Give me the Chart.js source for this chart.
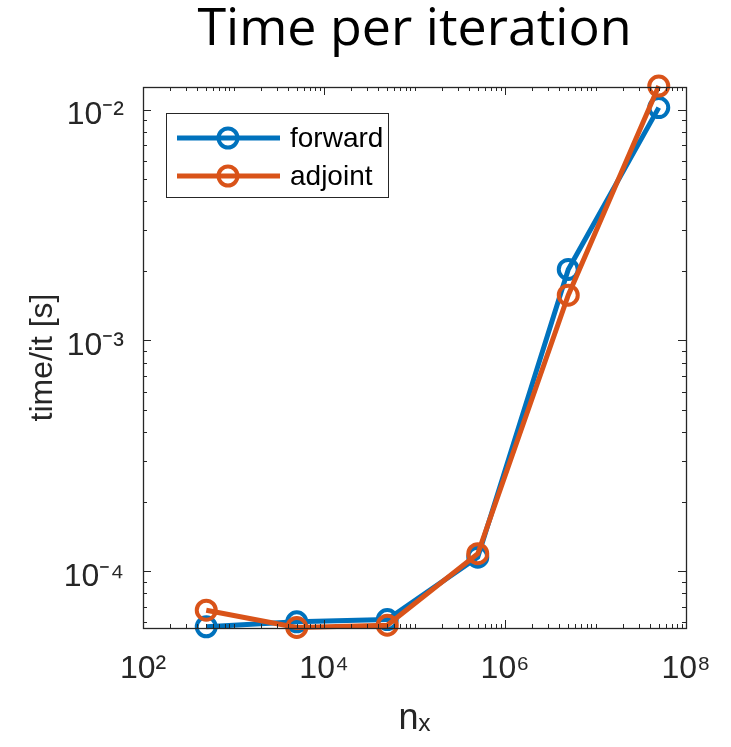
<!DOCTYPE html>
<html>
<head>
<meta charset="utf-8">
<script src="https://cdn.jsdelivr.net/npm/chart.js@4.4.1/dist/chart.umd.min.js"></script>
<style>
  html, body { margin: 0; padding: 0; background: #fff; }
  #wrap { width: 731px; height: 747px; }
</style>
</head>
<body>
<div id="wrap"><canvas id="timing"></canvas></div>
<script>
// problem size and measured time per iteration
const nx = [5e2, 5e3, 5e4, 5e5, 5e6, 5e7];
const forwardTime = [5.74e-5, 6.03e-5, 6.17e-5, 1.15e-4, 2.03e-3, 1.02e-2];
const adjointTime = [6.77e-5, 5.70e-5, 5.83e-5, 1.19e-4, 1.57e-3, 1.265e-2];

const seriesNames = ['forward', 'adjoint'];
const seriesColors = ['#0072BD', '#D95319'];

const xTicks = [1e2, 1e4, 1e6, 1e8];
const xTickLabels = ['10²', '10⁴', '10⁶', '10⁸'];
const yTicks = [1e-4, 1e-3, 1e-2];
const yTickLabels = ['10⁻⁴', '10⁻³', '10⁻²'];

const axisColor = '#262626';
const tickFont = { family: 'Liberation Sans, Arial, sans-serif', size: 32 };

function toPoints(xs, ys) {
  return xs.map((x, i) => ({ x: x, y: ys[i] }));
}

// matlab style box with inward ticks
const boxTicks = {
  id: 'boxTicks',
  afterDatasetsDraw(chart) {
    const ctx = chart.ctx;
    const a = chart.chartArea;
    const xs = chart.scales.x, ys = chart.scales.y;
    ctx.save();
    ctx.strokeStyle = axisColor;
    ctx.lineWidth = 1;
    const minor = 4, major = 8;

    const logTicks = (scale, majors) => {
      const out = [];
      const lo = Math.floor(Math.log10(scale.min));
      const hi = Math.ceil(Math.log10(scale.max));
      for (let d = lo; d <= hi; d++) {
        for (let k = 1; k <= 9; k++) {
          const v = k * Math.pow(10, d);
          if (v < scale.min || v > scale.max) continue;
          const isMajor = majors.some(m => Math.abs(m - v) / m < 1e-9);
          out.push({ p: scale.getPixelForValue(v), len: isMajor ? major : minor });
        }
      }
      return out;
    };

    ctx.beginPath();
    logTicks(xs, xTicks).forEach(t => {
      const px = Math.round(t.p) + 0.5;
      ctx.moveTo(px, a.bottom); ctx.lineTo(px, a.bottom - t.len);
      ctx.moveTo(px, a.top); ctx.lineTo(px, a.top + t.len);
    });
    logTicks(ys, yTicks).forEach(t => {
      const py = Math.round(t.p) + 0.5;
      ctx.moveTo(a.left, py); ctx.lineTo(a.left + t.len, py);
      ctx.moveTo(a.right, py); ctx.lineTo(a.right - t.len, py);
    });
    ctx.stroke();

    ctx.lineWidth = 1.3;
    ctx.strokeRect(Math.round(a.left) + 0.5, Math.round(a.top) + 0.5,
      Math.round(a.right - a.left), Math.round(a.bottom - a.top));
    ctx.restore();
  }
};

// legend box inside the axes, top left
const insideLegend = {
  id: 'insideLegend',
  afterDraw(chart) {
    const ctx = chart.ctx;
    const a = chart.chartArea;
    const left = a.left + 23, top = a.top + 26;
    const w = 222, h = 84;
    ctx.save();
    ctx.fillStyle = '#fff';
    ctx.fillRect(left, top, w, h);
    ctx.strokeStyle = axisColor;
    ctx.lineWidth = 1;
    ctx.strokeRect(left + 0.5, top + 0.5, w, h);

    ctx.font = '28px Liberation Sans, Arial, sans-serif';
    ctx.textBaseline = 'middle';
    seriesNames.forEach((name, i) => {
      const y = top + 25 + i * 38;
      ctx.strokeStyle = seriesColors[i];
      ctx.lineWidth = 5;
      ctx.beginPath();
      ctx.moveTo(left + 11, y);
      ctx.lineTo(left + 114, y);
      ctx.stroke();
      ctx.lineWidth = 4;
      ctx.beginPath();
      ctx.arc(left + 62, y, 9.5, 0, Math.PI * 2);
      ctx.stroke();
      ctx.fillStyle = '#000';
      ctx.fillText(name, left + 124, y + 1);
    });
    ctx.restore();
  }
};

const ctx = document.getElementById('timing').getContext('2d');

new Chart(ctx, {
  type: 'line',
  data: {
    datasets: [
      {
        label: seriesNames[0],
        data: toPoints(nx, forwardTime),
        borderColor: seriesColors[0],
        backgroundColor: 'rgba(0,0,0,0)',
        borderWidth: 5,
        pointRadius: 9.5,
        pointBorderWidth: 4,
        pointBackgroundColor: 'rgba(0,0,0,0)',
        pointBorderColor: seriesColors[0],
        clip: false,
        order: 1
      },
      {
        label: seriesNames[1],
        data: toPoints(nx, adjointTime),
        borderColor: seriesColors[1],
        backgroundColor: 'rgba(0,0,0,0)',
        borderWidth: 5,
        pointRadius: 9.5,
        pointBorderWidth: 4,
        pointBackgroundColor: 'rgba(0,0,0,0)',
        pointBorderColor: seriesColors[1],
        clip: false,
        order: 0
      }
    ]
  },
  options: {
    responsive: true,
    maintainAspectRatio: false,
    animation: false,
    layout: { padding: { left: 0, right: 45, top: 0, bottom: 0 } },
    plugins: {
      legend: { display: false },
      tooltip: { enabled: false },
      title: {
        display: true,
        fullSize: false,
        text: 'Time per iteration',
        color: '#000',
        font: { family: 'Open Sans, Noto Sans, sans-serif', size: 52, weight: 'normal', lineHeight: 1 },
        padding: { top: 4, bottom: 31 }
      }
    },
    scales: {
      x: {
        type: 'logarithmic',
        min: 1e2,
        max: 1e8,
        grid: { display: false },
        border: { display: false },
        afterBuildTicks: scale => { scale.ticks = xTicks.map(v => ({ value: v })); },
        afterFit: scale => { scale.height = 119; },
        ticks: {
          color: axisColor,
          font: tickFont,
          padding: 14,
          maxRotation: 0,
          autoSkip: false,
          callback: (v, i) => xTickLabels[i]
        },
        title: {
          display: true,
          text: 'nₓ',
          color: axisColor,
          font: { family: 'Liberation Sans, Arial, sans-serif', size: 36 },
          padding: { top: 0, bottom: 6 }
        }
      },
      y: {
        type: 'logarithmic',
        min: 5.67e-5,
        max: 1.253e-2,
        grid: { display: false },
        border: { display: false },
        afterBuildTicks: scale => { scale.ticks = yTicks.map(v => ({ value: v })); },
        afterFit: scale => { scale.width = 143; },
        ticks: {
          color: axisColor,
          font: tickFont,
          padding: 11,
          labelOffset: 6,
          autoSkip: false,
          callback: (v, i) => yTickLabels[i]
        },
        title: {
          display: true,
          text: 'time/it [s]',
          color: axisColor,
          font: { family: 'Liberation Sans, Arial, sans-serif', size: 32 },
          padding: { top: 24, bottom: 0 }
        }
      }
    }
  },
  plugins: [boxTicks, insideLegend]
});
</script>
</body>
</html>
